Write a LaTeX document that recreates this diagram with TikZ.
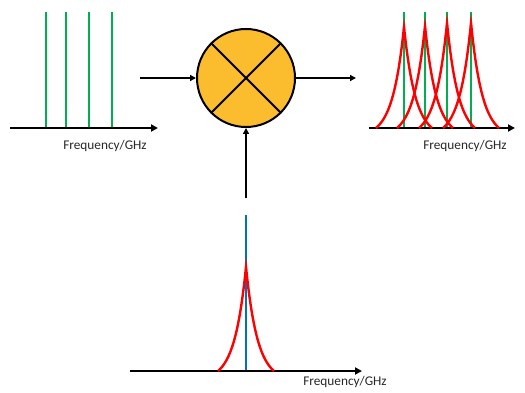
\documentclass[tikz,border=0pt]{standalone}
\usepackage{fontspec}
\setmainfont{Carlito}
\usetikzlibrary{arrows.meta}
\definecolor{spgreen}{RGB}{0,176,80}
\definecolor{spred}{RGB}{255,0,0}
\definecolor{spblue}{RGB}{0,112,192}
\definecolor{mixfill}{RGB}{251,188,45}
\definecolor{labgray}{RGB}{40,40,40}
\newcommand{\lorpeak}[3]{%
  plot[domain=-28:28,samples=121,smooth] ({#1+\x},{#2-#3*(exp(-abs(\x)/11.5)-exp(-28/11.5))/(1-exp(-28/11.5))})}
\begin{document}
\begin{tikzpicture}[x=1pt,y=-1pt,
  axisline/.style={line width=1.8pt,-{Triangle[length=7pt,width=7pt]}},
  flow/.style={line width=2pt,-{Triangle[length=6pt,width=6pt]}},
  greenline/.style={spgreen,line width=2pt},
  blueline/.style={spblue,line width=2pt},
  redcurve/.style={spred,line width=2.4pt},
  freqlabel/.style={font=\fontsize{13.3}{16}\selectfont,text=labgray,inner sep=0pt},
  mixer/.style={circle,draw=black,line width=2pt,fill=mixfill,minimum size=98pt,inner sep=0pt}]
\useasboundingbox (0,0) rectangle (525,393);

% left panel
\coordinate (la0) at (10,128);
\coordinate (la1) at (158,128);
\foreach \xx in {46,66,89,112}{
  \draw[greenline] (\xx,128) -- (\xx,12);
}
\draw[axisline] (la0) -- (la1);
\node[freqlabel] (llab) at (105,146) {Frequency/GHz};

% mixer
\node[mixer] (mix) at (246,78) {};
\draw[line width=2pt] (mix.north west) -- (mix.south east);
\draw[line width=2pt] (mix.north east) -- (mix.south west);
\coordinate (inL) at (140,78);
\coordinate (outR) at (356,78);
\coordinate (inB) at (246,198);
\draw[flow] (inL) -- (mix.west);
\draw[flow] (mix.east) -- (outR);
\draw[flow] (inB) -- (mix.south);

% right panel
\coordinate (ra0) at (369,128);
\coordinate (ra1) at (515,128);
\foreach \xx in {404,425,447,471}{
  \draw[greenline] (\xx,128) -- (\xx,12);
}
\draw[axisline] (ra0) -- (ra1);
\draw[redcurve] \lorpeak{404}{128}{101};
\draw[redcurve] \lorpeak{425}{128}{102};
\draw[redcurve] \lorpeak{447}{128}{105};
\draw[redcurve] \lorpeak{471}{128}{105};
\node[freqlabel] (rlab) at (465,146) {Frequency/GHz};

% bottom panel
\coordinate (ba0) at (130,371);
\coordinate (ba1) at (362,371);
\draw[blueline] (246,371) -- (246,215);
\draw[axisline] (ba0) -- (ba1);
\draw[redcurve] \lorpeak{246}{371}{104};
\node[freqlabel] (blab) at (345,382) {Frequency/GHz};
\end{tikzpicture}
\end{document}
